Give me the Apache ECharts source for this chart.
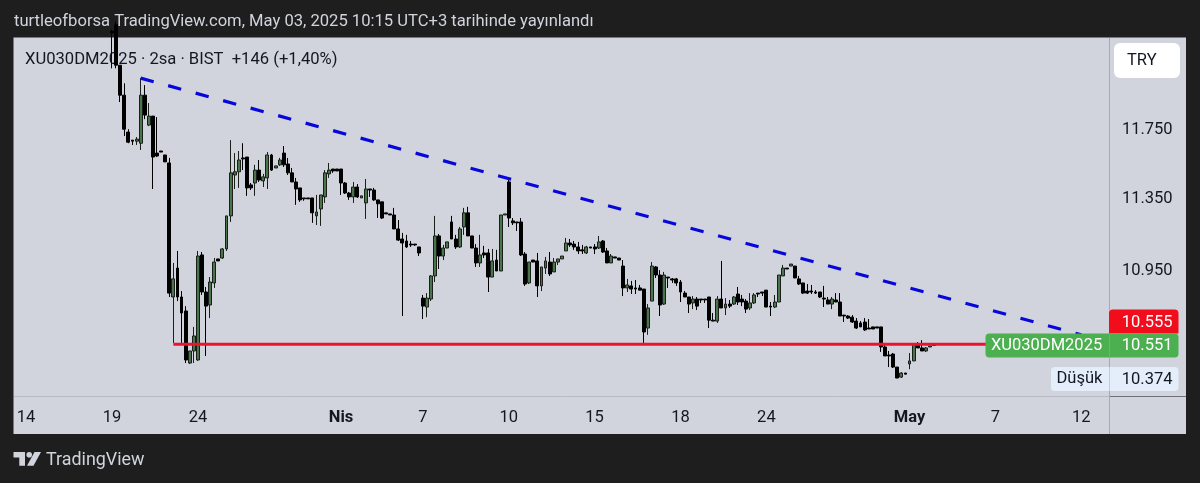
<!DOCTYPE html>
<html lang="tr">
<head>
<meta charset="utf-8">
<title>XU030DM2025</title>
<script src="https://cdn.jsdelivr.net/npm/echarts@6/dist/echarts.min.js"></script>
<style>
  html, body { margin: 0; padding: 0; background: #1e1e1e; }
  #chart { width: 1200px; height: 483px; }
</style>
</head>
<body>
<div id="chart"></div>
<script>
// 2 saatlik mumlar
var firstBarIndex = 23;
var slotCount = 267;

var opens = [
12340,12380,12133,11953,11735,11688,11682,11670,11953,11776,
11829,11613,11625,11602,11556,10809,10966,10809,10734,10459,
10522,10475,11038,10836,10766,10885,11016,11021,11071,11255,
11487,11505,11585,11590,11430,11441,11515,11453,11470,11602,
11527,11545,11613,11550,11499,11447,11413,11356,11356,11356,
11255,11294,11362,11493,11521,11521,11521,11441,11384,11362,
11418,11356,11328,11407,11401,11345,11334,11272,11266,11260,
11182,11126,11115,11098,11098,11082,10803,10755,10798,10923,
11143,11032,11076,11221,11126,11082,11193,11272,11143,11076,
10994,11049,11049,10917,11010,10950,11260,11447,11227,11221,
11221,11043,10885,11010,11005,10869,10966,10999,10945,10999,
11016,11060,11104,11098,11082,11066,11049,11082,11082,11076,
11115,11060,10994,11027,11021,10977,10858,10869,10858,10858,
10852,10643,10787,10972,10928,10771,10917,10907,10907,10890,
10830,10809,10777,10798,10798,10798,10809,10685,10680,10798,
10750,10771,10771,10825,10798,10787,10750,10777,10830,10836,
10846,10760,10755,10782,10923,10966,10977,10977,10907,10885,
10841,10841,10836,10836,10803,10793,10771,10793,10782,10712,
10707,10701,10680,10670,10675,10643,10649,10649,10649,10543,
10501,10506,10438,10386,10407,10454,10470,10558,10538,10522,
10543,10553
];
var closes = [
12330,12133,11953,11752,11676,11682,11694,11953,11835,11829,
11590,11596,11619,11562,10830,10907,10809,10723,10475,10522,
10601,11032,10836,10760,10890,10999,11005,11071,11255,11499,
11505,11573,11579,11413,11413,11515,11458,11476,11602,11515,
11539,11573,11545,11499,11447,11407,11345,11351,11351,11272,
11277,11373,11499,11515,11510,11510,11441,11384,11362,11418,
11362,11368,11407,11401,11345,11323,11243,11266,11260,11182,
11120,11104,11082,11093,11093,11049,10760,10803,10923,11143,
11032,11076,11110,11126,11082,11182,11272,11143,11076,10994,
11038,11038,10917,11005,10950,11260,11266,11243,11216,11216,
11038,10879,10999,10999,10869,10972,11005,10934,10999,11016,
11032,11104,11093,11082,11060,11060,11082,11076,11071,11110,
11054,10994,11032,11021,11010,10858,10874,10852,10852,10846,
10622,10750,10977,10928,10766,10928,10912,10901,10885,10836,
10809,10771,10798,10760,10793,10793,10685,10680,10798,10750,
10771,10760,10809,10782,10782,10744,10777,10820,10825,10830,
10755,10755,10782,10928,10966,10961,10988,10912,10879,10830,
10830,10836,10830,10809,10798,10771,10798,10782,10707,10707,
10696,10675,10643,10649,10633,10638,10638,10643,10543,10496,
10496,10438,10381,10407,10401,10470,10558,10538,10522,10538,
10548,10551
];
var lows = [
12114,12114,11912,11712,11670,11660,11660,11631,11811,11770,
11407,11590,11619,11562,10809,10564,10787,10564,10459,10454,
10459,10470,10820,10496,10696,10858,11005,11016,11060,11221,
11407,11413,11515,11368,11401,11368,11447,11418,11407,11510,
11527,11539,11533,11487,11447,11317,11334,11340,11351,11216,
11204,11199,11328,11470,11499,11510,11373,11379,11345,11328,
11356,11356,11238,11362,11340,11243,11238,11266,11260,11182,
11115,10707,11076,11082,11088,11032,10691,10701,10787,10890,
10961,11010,11076,11126,11071,11076,11149,11143,11076,10972,
10972,11021,10836,10917,10950,10950,11260,11193,11204,11171,
11032,10869,10879,10999,10809,10841,10934,10923,10945,10983,
11016,11060,11082,11066,11043,11043,11043,11076,11043,11071,
11049,10994,10994,11021,11010,10814,10836,10825,10825,10846,
10564,10607,10787,10912,10707,10766,10858,10885,10869,10782,
10809,10723,10744,10739,10777,10777,10643,10680,10670,10750,
10712,10750,10766,10766,10760,10723,10739,10771,10809,10814,
10755,10707,10750,10782,10923,10961,10977,10912,10874,10825,
10825,10825,10825,10803,10755,10771,10744,10782,10707,10675,
10691,10670,10638,10649,10628,10638,10638,10643,10517,10496,
10438,10433,10381,10381,10401,10427,10470,10538,10522,10517,
10543,10551
];
var highs = [
12350,12400,12133,12024,11752,11688,11706,12055,12013,11906,
11829,11823,11625,11602,11585,10994,11060,10841,10760,10522,
10649,11060,11054,10863,10917,11021,11016,11076,11255,11688,
11613,11625,11670,11590,11441,11545,11573,11493,11619,11608,
11539,11585,11654,11585,11527,11470,11413,11356,11356,11356,
11373,11373,11515,11556,11521,11521,11521,11447,11390,11447,
11435,11368,11464,11407,11413,11345,11334,11272,11266,11300,
11232,11160,11149,11115,11098,11082,10820,10830,10928,11255,
11154,11093,11110,11255,11149,11193,11300,11306,11143,11098,
11149,11088,11071,11071,11066,11260,11266,11464,11243,11221,
11243,11054,10999,11010,11049,10972,11027,11054,11021,11016,
11032,11132,11126,11115,11110,11093,11088,11082,11098,11143,
11120,11076,11043,11027,11021,11010,10907,10896,10901,10874,
10852,10771,10999,10977,10955,10945,10917,10912,10912,10901,
10841,10809,10814,10809,10798,10798,10809,10723,10814,11005,
10803,10793,10814,10863,10820,10798,10830,10830,10830,10836,
10846,10782,10820,10928,10983,10966,10988,10977,10923,10885,
10879,10874,10846,10836,10869,10809,10809,10830,10830,10712,
10712,10712,10696,10680,10696,10691,10649,10649,10649,10564,
10522,10511,10438,10412,10407,10511,10564,10569,10579,10543,
10548,10558
];

var xTickLabels = ['14', '19', '24', 'Nis', '7', '10', '15', '18', '24', 'May', '7', '12'];
var xTickIndex = [2, 23, 44, 79, 99, 120, 141, 162, 183, 218, 239, 260];
var yTicks = [10950, 11350, 11750];
var yMin = 10288.5;
var yMax = 12298.6;

var trendIndex = [30, 260];
var trendPrice = [12055, 10607];
var supportIndex = [38, 266];
var supportPrice = [10558, 10558];

var categories = [];
for (var i = 0; i < slotCount; i++) categories.push('');
xTickIndex.forEach(function (idx, n) { categories[idx] = xTickLabels[n]; });

var candles = [];
for (var j = 0; j < firstBarIndex; j++) candles.push('-');
opens.forEach(function (o, n) {
    candles.push([o, closes[n], lows[n], highs[n]]);
});

var FONT = 'Roboto';
var INK = '#131722';
var SIZE = 16.5;

function txt(x, y, s, size, color, z, extra) {
    var style = { text: s, x: x, y: y, font: (extra && extra.weight ? extra.weight + ' ' : '') + size + 'px ' + FONT,
        fill: color, textVerticalAlign: 'middle', textAlign: (extra && extra.align) || 'left' };
    return { type: 'text', z: z, silent: true, style: style };
}
function box(x, y, w, h, color, z, r) {
    return { type: 'rect', z: z, silent: true, shape: { x: x, y: y, width: w, height: h, r: r || 0 }, style: { fill: color } };
}
function rule(x1, y1, x2, y2, color) {
    return { type: 'line', z: 1, silent: true, shape: { x1: x1, y1: y1, x2: x2, y2: y2 }, style: { stroke: color, lineWidth: 1 } };
}

var chart = echarts.init(document.getElementById('chart'));
chart.setOption({
    animation: false,
    backgroundColor: '#1e1e1e',
    grid: { left: 15.9, top: 38, width: 1092, height: 358, containLabel: false },
    xAxis: {
        type: 'category',
        data: categories,
        boundaryGap: true,
        axisLine: { show: false },
        axisTick: { show: false },
        splitLine: { show: false },
        axisLabel: {
            interval: 0,
            margin: 13,
            hideOverlap: false,
            fontFamily: FONT,
            fontSize: SIZE,
            color: INK,
            formatter: function (v) {
                return (v === 'Nis' || v === 'May') ? '{b|' + v + '}' : v;
            },
            rich: { b: { fontFamily: FONT, fontSize: SIZE, fontWeight: 'bold', color: INK } }
        }
    },
    yAxis: {
        type: 'log',
        position: 'right',
        min: yMin,
        max: yMax,
        axisLine: { show: false },
        axisTick: { show: false },
        splitLine: { show: false },
        axisLabel: {
            customValues: yTicks,
            margin: 14,
            padding: [3, 0, 0, 0],
            fontFamily: FONT,
            fontSize: SIZE,
            color: INK,
            formatter: function (v) {
                return String(Math.round(v)).replace(/(\d+)(\d{3})$/, '$1.$2');
            }
        }
    },
    series: [
        {
            type: 'candlestick',
            data: candles,
            barWidth: 3.4,
            clip: true,
            z: 3,
            itemStyle: {
                color: '#4a744c',
                color0: '#000000',
                borderColor: '#1a1f1a',
                borderColor0: '#000000',
                borderColorDoji: '#000000',
                borderWidth: 1
            }
        },
        {
            type: 'line',
            data: [[trendIndex[0], trendPrice[0]], [trendIndex[1], trendPrice[1]]],
            symbol: 'none',
            z: 4,
            lineStyle: { color: '#0707dc', width: 3.2, type: [13.5, 15] }
        },
        {
            type: 'line',
            data: [[supportIndex[0], supportPrice[0]], [supportIndex[1], supportPrice[1]]],
            symbol: 'none',
            z: 4,
            lineStyle: { color: '#ee1230', width: 3 }
        }
    ],
    graphic: { elements: [
        box(13.5, 37.5, 1172.5, 396.5, '#d1d4dc', -2),
        txt(14, 22, 'turtleofborsa TradingView.com, May 03, 2025 10:15 UTC+3 tarihinde yayınlandı', 16.6, '#d1d4dc', -1),
        txt(25, 60, 'XU030DM2025 · 2sa · BIST  +146 (+1,40%)', 16.6, INK, -1),
        rule(14, 396.5, 1109, 396.5, '#b8bbc3'),
        rule(1109, 396.5, 1186, 396.5, '#6e7178'),
        rule(1109.5, 38, 1109.5, 434, '#a6a9b1'),
        box(1114, 43, 66, 35, '#ffffff', 10, 6),
        txt(1127, 61, 'TRY', SIZE, INK, 11),
        box(1109, 309.5, 69.5, 24, '#f20d1d', 10, [4, 4, 0, 0]),
        txt(1172.5, 322.5, '10.555', SIZE, '#ffffff', 11, { align: 'right' }),
        box(985.5, 333.5, 123.5, 24, '#4caf50', 10, [4, 0, 0, 4]),
        box(1109.5, 333.5, 69, 24, '#4caf50', 10, [0, 4, 4, 0]),
        txt(991, 346, 'XU030DM2025', SIZE, '#ffffff', 11),
        txt(1172.5, 346, '10.551', SIZE, '#ffffff', 11, { align: 'right' }),
        box(1051, 367, 58, 24, '#e3eefa', 10, [4, 0, 0, 4]),
        box(1109.5, 367, 69, 24, '#e3eefa', 10, [0, 4, 4, 0]),
        txt(1056.5, 378.5, 'Düşük', SIZE, INK, 11),
        txt(1172.5, 380, '10.374', SIZE, INK, 11, { align: 'right' }),
        // TradingView logosu
        { type: 'polygon', z: 5, silent: true, shape: { points: [[13.5, 452], [25, 452], [25, 465.7], [19.3, 465.7], [19.3, 457.5], [13.5, 457.5]] }, style: { fill: '#d1d4dc' } },
        { type: 'circle', z: 5, silent: true, shape: { cx: 29.2, cy: 454.8, r: 2.8 }, style: { fill: '#d1d4dc' } },
        { type: 'polygon', z: 5, silent: true, shape: { points: [[34.5, 452], [41, 452], [33.5, 465.7], [27, 465.7]] }, style: { fill: '#d1d4dc' } },
        txt(46, 460.5, 'TradingView', 17.9, '#d1d4dc', 5)
    ] }
});
</script>
</body>
</html>
